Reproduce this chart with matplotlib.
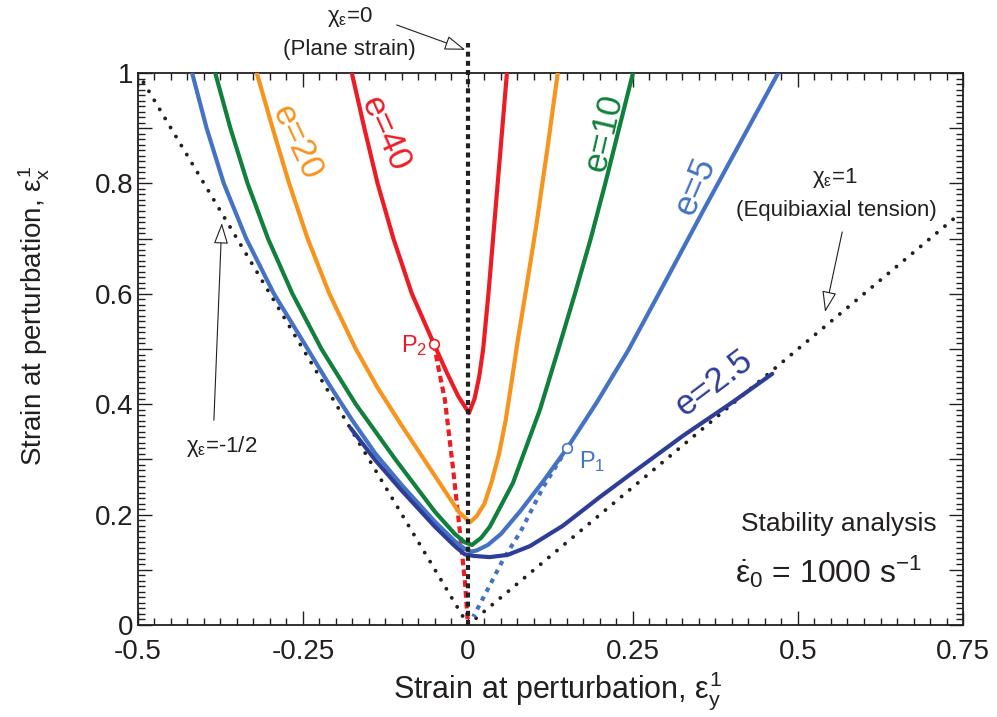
""" Stability analysis: strain at perturbation for several e values """

import numpy as np
import matplotlib.pyplot as plt
from matplotlib.ticker import MultipleLocator, FuncFormatter

plt.rcParams['font.family'] = ['Liberation Sans', 'DejaVu Sans']
plt.rcParams['mathtext.fontset'] = 'custom'
plt.rcParams['mathtext.rm'] = 'Liberation Sans'
plt.rcParams['mathtext.it'] = 'Liberation Sans'
plt.rcParams['mathtext.bf'] = 'Liberation Sans:bold'
plt.rcParams['lines.solid_joinstyle'] = 'round'
plt.rcParams['lines.solid_capstyle'] = 'round'

INK = '#231f20'

# curves (eps_y, eps_x)
e40_x = [-0.176, -0.157, -0.137, -0.113, -0.085, -0.0515, -0.032, -0.015, 0.0015, 0.010, 0.017, 0.023, 0.031, 0.038, 0.045, 0.052, 0.059]
e40_y = [1.0, 0.9, 0.8, 0.7, 0.6, 0.509, 0.457, 0.415, 0.384, 0.41, 0.45, 0.5, 0.6, 0.7, 0.8, 0.9, 1.0]

e20_x = [-0.320, -0.296, -0.271, -0.243, -0.21, -0.17, -0.137, -0.103, -0.05, -0.014, 0.003, 0.013, 0.025, 0.036, 0.047, 0.057, 0.066, 0.076, 0.087, 0.103, 0.12, 0.136]
e20_y = [1.0, 0.9, 0.8, 0.7, 0.6, 0.5, 0.43, 0.366, 0.27, 0.205, 0.186, 0.197, 0.22, 0.26, 0.31, 0.37, 0.44, 0.52, 0.6, 0.72, 0.86, 1.0]

e10_x = [-0.383, -0.360, -0.334, -0.303, -0.266, -0.222, -0.17, -0.11, -0.05, -0.02, -0.005, 0.006, 0.02, 0.033, 0.068, 0.109, 0.137, 0.162, 0.186, 0.208, 0.229, 0.25]
e10_y = [1.0, 0.9, 0.8, 0.7, 0.6, 0.5, 0.4, 0.3, 0.205, 0.165, 0.15, 0.145, 0.158, 0.178, 0.257, 0.39, 0.5, 0.6, 0.7, 0.8, 0.9, 1.0]

e5_x = [-0.418, -0.396, -0.370, -0.336, -0.294, -0.248, -0.21, -0.176, -0.14, -0.1, -0.05, -0.02, -0.005, 0.005, 0.013, 0.03, 0.05, 0.079, 0.115, 0.15, 0.195, 0.243, 0.298, 0.357, 0.413, 0.47]
e5_y = [1.0, 0.9, 0.8, 0.7, 0.6, 0.51, 0.435, 0.372, 0.31, 0.253, 0.187, 0.152, 0.138, 0.133, 0.135, 0.145, 0.165, 0.206, 0.262, 0.32, 0.403, 0.498, 0.62, 0.752, 0.875, 1.0]

e25_x = [-0.178, -0.14, -0.1, -0.05, -0.02, -0.005, 0.01, 0.033, 0.06, 0.094, 0.144, 0.2, 0.245, 0.326, 0.40, 0.461]
e25_y = [0.357, 0.298, 0.243, 0.178, 0.143, 0.128, 0.125, 0.123, 0.127, 0.143, 0.18, 0.232, 0.272, 0.343, 0.403, 0.455]

# unstable continuations from P2 and P1 down to the origin
p2_x = [-0.0515, -0.045, -0.035, -0.023, -0.012, -0.0045, 0.0]
p2_y = [0.509, 0.467, 0.408, 0.287, 0.166, 0.076, 0.0]
p1_x = [0.15, 0.114, 0.08, 0.053, 0.03, 0.008]
p1_y = [0.32, 0.25, 0.17, 0.118, 0.065, 0.015]

# strain paths
chi_half_x = [0.0, -0.495]
chi_half_y = [0.0, 0.99]
chi_one_x = [0.0, 0.745]
chi_one_y = [0.0, 0.745]
chi_zero_y = [0.0, 1.055]

RED = '#ed1c24'
ORANGE = '#f7941d'
GREEN = '#10803c'
BLUE = '#4472c4'
NAVY = '#2e3d98'

fig = plt.figure(figsize=(9.97, 7.17), dpi=100)
ax = fig.add_axes([0.1384, 0.1283, 0.8275, 0.7699])

dots = dict(color=INK, lw=2.8, dash_capstyle='round', linestyle=(0, (0.01, 2.7)))
ax.plot(chi_half_x, chi_half_y, **dots, zorder=2)
ax.plot(chi_one_x, chi_one_y, **dots, zorder=2)
ax.plot([0, 0], chi_zero_y, color=INK, lw=3, linestyle=(0, (1.2, 1.0)), clip_on=False, zorder=6)

ax.plot(p2_x, p2_y, color=RED, lw=3, linestyle=(0, (1.6, 1.0)), zorder=3)
ax.plot(p1_x, p1_y, color=BLUE, lw=3, linestyle=(0, (1.1, 1.3)), zorder=3)

ax.plot(e40_x, e40_y, color=RED, lw=3, zorder=4)
ax.plot(e20_x, e20_y, color=ORANGE, lw=3, zorder=4)
ax.plot(e10_x, e10_y, color=GREEN, lw=3, zorder=4)
ax.plot(e5_x, e5_y, color=BLUE, lw=3, zorder=4)
ax.plot(e25_x, e25_y, color=NAVY, lw=3, zorder=4)

ax.plot([p2_x[0]], [p2_y[0]], 'o', ms=7, mfc='white', mec=RED, mew=1.2, zorder=7)
ax.plot([p1_x[0]], [p1_y[0]], 'o', ms=7, mfc='white', mec=BLUE, mew=1.2, zorder=7)

# curve labels
lab = dict(fontsize=25, ha='center', va='center', rotation_mode='anchor')
ax.text(-0.126, 0.89, 'e=40', color=RED, rotation=-66, **lab)
ax.text(-0.260, 0.874, 'e=20', color=ORANGE, rotation=-65, **lab)
ax.text(0.206, 0.892, 'e=10', color=GREEN, rotation=77, **lab)
ax.text(0.344, 0.795, 'e=5', color=BLUE, rotation=67, **lab)
ax.text(0.373, 0.438, 'e=2.5', color=NAVY, rotation=37, **lab)

ax.text(-0.061, 0.507, 'P$_2$', color=RED, fontsize=17, ha='right', va='center')
ax.text(0.168, 0.296, 'P$_1$', color=BLUE, fontsize=17, ha='left', va='center')

# strain path annotations
arrow = dict(arrowstyle='-|>,head_length=1.3,head_width=0.45', fc='white', ec=INK, lw=0.8,
             shrinkA=0, shrinkB=0)
ax.text(-0.179, 1.101, r'$\chi_\varepsilon$=0', fontsize=16, color=INK, ha='center', va='center')
ax.text(-0.179, 1.043, '(Plane strain)', fontsize=16, color=INK, ha='center', va='center')
ax.annotate('', xy=(-0.004, 1.042), xytext=(-0.108, 1.087), annotation_clip=False, arrowprops=arrow)
ax.text(0.556, 0.81, r'$\chi_\varepsilon$=1', fontsize=16, color=INK, ha='center', va='center')
ax.text(0.558, 0.75, '(Equibiaxial tension)', fontsize=16, color=INK, ha='center', va='center')
ax.annotate('', xy=(0.541, 0.567), xytext=(0.567, 0.712), arrowprops=arrow)
ax.text(-0.373, 0.324, r'$\chi_\varepsilon$=-1/2', fontsize=16, color=INK, ha='center', va='center')
ax.annotate('', xy=(-0.373, 0.728), xytext=(-0.385, 0.371), arrowprops=arrow)

ax.text(0.562, 0.183, 'Stability analysis', fontsize=19, color=INK, ha='center', va='center')
ax.text(0.547, 0.096, r'$\dot{\varepsilon}_0$ = 1000 s$^{-1}$', fontsize=23, color=INK,
        ha='center', va='center')

ax.set_xlim(-0.5, 0.75)
ax.set_ylim(0, 1)
ax.xaxis.set_major_locator(MultipleLocator(0.25))
ax.xaxis.set_minor_locator(MultipleLocator(0.025))
ax.yaxis.set_major_locator(MultipleLocator(0.1))
ax.yaxis.set_minor_locator(MultipleLocator(0.01))
ax.xaxis.set_major_formatter(FuncFormatter(lambda v, p: '0' if abs(v) < 1e-9 else f'{v:g}'))
ax.yaxis.set_major_formatter(FuncFormatter(
    lambda v, p: ('0' if abs(v) < 1e-9 else f'{v:g}') if round(v * 10) % 2 == 0 else ''))
ax.tick_params(which='both', direction='in', top=True, right=True, colors=INK, labelsize=20)
ax.tick_params(which='major', length=10, width=1)
ax.tick_params(which='minor', length=5, width=1)
ax.tick_params(axis='x', pad=10)
for s in ax.spines.values():
    s.set_linewidth(1.3)
    s.set_color(INK)

ax.set_xlabel(r'Strain at perturbation, $\varepsilon^1_y$', fontsize=22, color=INK, va='center')
ax.xaxis.set_label_coords(0.509, -0.118)
ax.set_ylabel(r'Strain at perturbation, $\varepsilon^1_x$', fontsize=20, color=INK, va='center')
ax.yaxis.set_label_coords(-0.126, 0.56)

fig.savefig('out.png', dpi=100)
